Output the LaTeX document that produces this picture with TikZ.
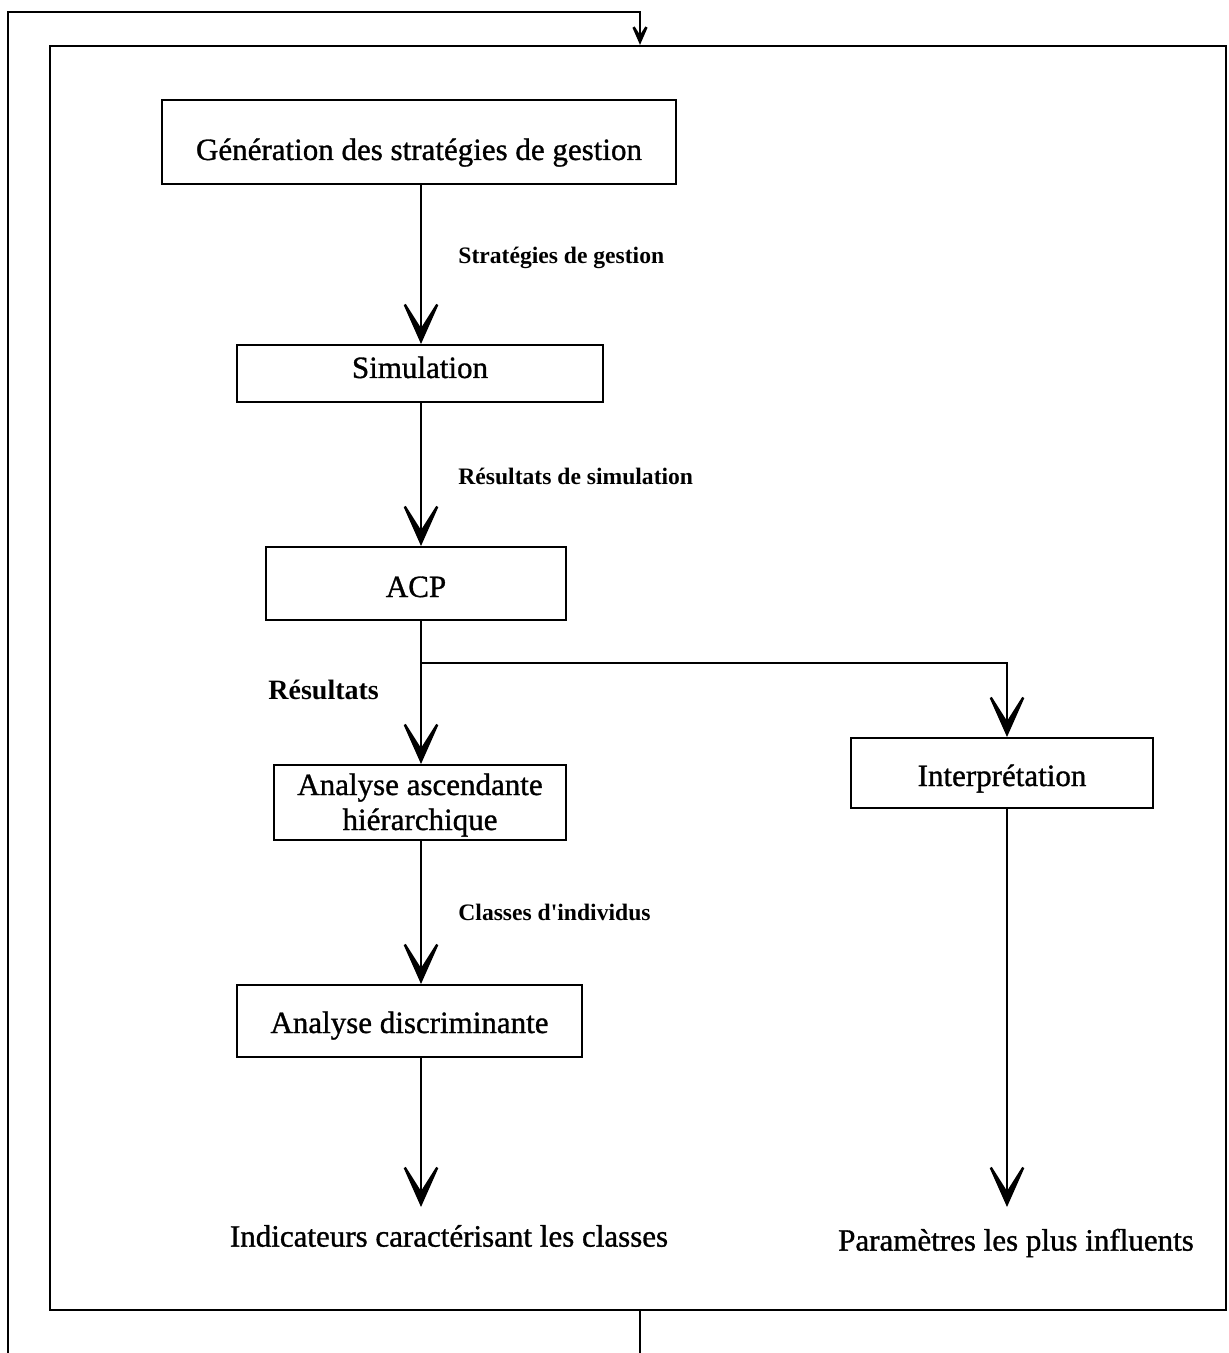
\documentclass[tikz,border=0pt]{standalone}
\usepackage{fontspec}
\setmainfont{Liberation Serif}
\newfontfamily\boxfont[FakeBold=1]{Liberation Serif}
\usetikzlibrary{arrows.meta,calc}
\tikzset{
  box/.style={draw,line width=1pt,rectangle,inner sep=0pt,align=center,font=\boxfont\fontsize{15.5}{17.5}\selectfont,text depth=0pt},
  frame/.style={draw,line width=1.1pt,rectangle,inner sep=0pt},
  lbl/.style={anchor=west,inner sep=0pt,font=\bfseries\fontsize{11.8}{14}\selectfont},
  outtxt/.style={inner sep=0pt,font=\boxfont\fontsize{15.5}{17}\selectfont},
  tip/.style={-{Stealth[length=27pt,width=24pt,inset=19pt]}},
  smalltip/.style={-{Stealth[length=16pt,width=14pt,inset=11pt]}},
  arr/.style={line width=1.2pt,tip},
  loop/.style={line width=1.3pt}
}
\begin{document}
\begin{tikzpicture}[x=0.5pt,y=-0.5pt]
\useasboundingbox (0,0) rectangle (1229,1353);
% column coordinates
\coordinate (ax) at (421,0);
\coordinate (bx) at (1007,0);
\coordinate (lx) at (640,0);
% frame
\node[frame,minimum width=588pt,minimum height=632pt] (big) at (638,678) {};
% boxes
\node[box,minimum width=257pt,minimum height=42pt,text height=18pt] (gen) at (419,142) {Génération des stratégies de gestion};
\node[box,minimum width=183pt,minimum height=28.5pt,text height=4.5pt] (sim) at (420,373.5) {Simulation};
\node[box,minimum width=150pt,minimum height=36.5pt,text height=13.5pt] (acp) at (416,583.5) {ACP};
\node[box,minimum width=146pt,minimum height=37.5pt,text height=27.5pt] (aah) at (420,802.5) {Analyse ascendante\\hiérarchique};
\node[box,minimum width=151pt,minimum height=35pt,text height=13pt] (int) at (1002,773) {Interprétation};
\node[box,minimum width=172.5pt,minimum height=36pt,text height=12pt] (adi) at (409.5,1021) {Analyse discriminante};
% outputs
\node[outtxt] (ind) at (449,1236) {Indicateurs caractérisant les classes};
\node[outtxt] (par) at (1016,1243) {Paramètres les plus influents};
\coordinate (indtop) at (421,1207);
\coordinate (partop) at (1007,1207);
% labels
\node[lbl] (l1) at (458,258) {Stratégies de gestion};
\node[lbl] (l2) at (458,476) {Résultats de simulation};
\node[lbl,font=\bfseries\fontsize{14}{16}\selectfont] (l3) at (268,690) {Résultats};
\node[lbl] (l4) at (458,912) {Classes d\textquotesingle individus};
% connectors
\draw[arr] (gen.south -| ax) -- (sim.north -| ax);
\draw[arr] (sim.south -| ax) -- (acp.north -| ax);
\coordinate (br) at (421,663);
\draw[arr] (acp.south -| ax) -- (aah.north -| ax);
\draw[arr] (br) -- (br -| bx) -- (int.north -| bx);
\draw[arr] (aah.south -| ax) -- (adi.north -| ax);
\draw[arr] (adi.south -| ax) -- (indtop);
\draw[arr] (int.south -| bx) -- (partop);
% outer loop
\coordinate (lb) at (8,1353);
\coordinate (lt) at (8,12);
\coordinate (bot) at (640,1353);
\draw[loop] (big.south -| lx) -- (bot);
\draw[loop,smalltip] (lb) -- (lt) -- (lt -| lx) -- (big.north -| lx);
\end{tikzpicture}
\end{document}
